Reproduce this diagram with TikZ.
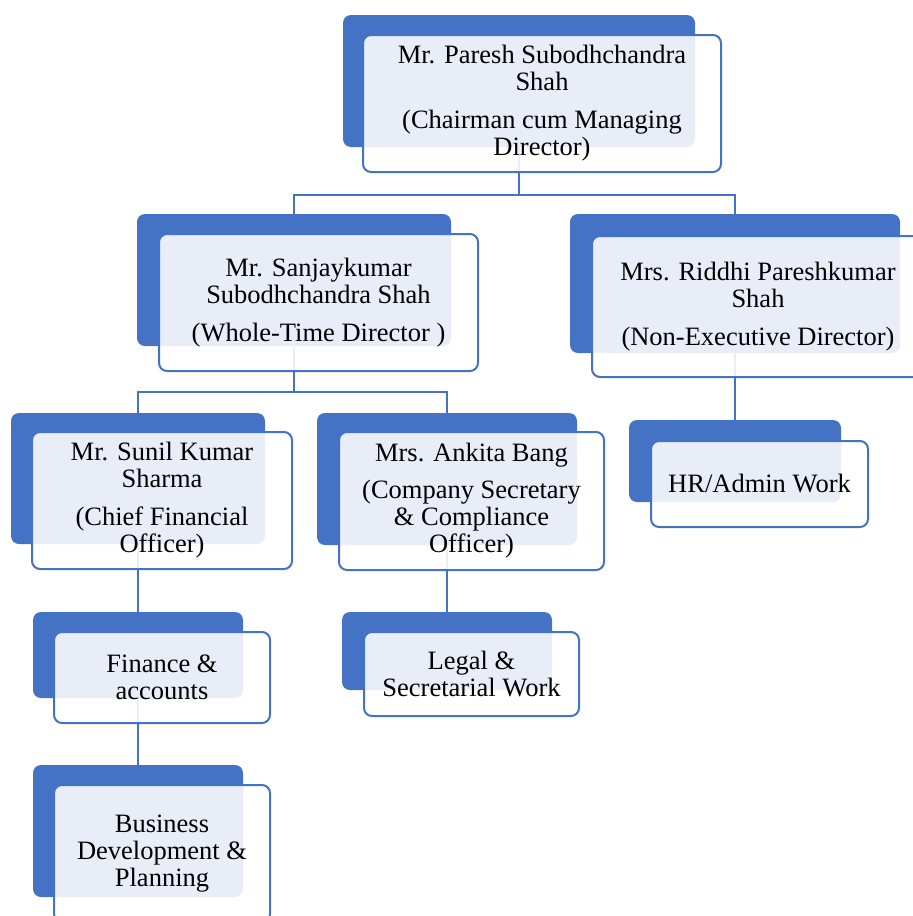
\documentclass[tikz,border=0pt]{standalone}
\usepackage{fontspec}
\setmainfont{Liberation Serif}
\usetikzlibrary{backgrounds}
\definecolor{orgblue}{HTML}{4472C4}
\tikzset{
  backbox/.style={fill=orgblue, rounded corners=8pt, inner sep=0pt},
  frontbox/.style={draw=orgblue, line width=2pt, fill=white, fill opacity=0.88, text opacity=1,
    rounded corners=8pt, align=center, inner sep=0pt, font=\fontsize{26.5}{27}\selectfont},
  link/.style={draw=orgblue, line width=2pt}
}
\begin{document}
\begin{tikzpicture}[x=1pt, y=-1pt]
  \useasboundingbox (0,0) rectangle (913,916);

  \node[backbox, minimum width=352pt, minimum height=132pt] (paresh-b) at (519,81) {};
  \node[frontbox, minimum width=358pt, minimum height=137pt] (paresh) at (542,103.5)
    {Mr. Paresh Subodhchandra\\Shah\\[11pt](Chairman cum Managing\\Director)};

  \node[backbox, minimum width=314pt, minimum height=132pt] (sanjay-b) at (294,280) {};
  \node[frontbox, minimum width=319pt, minimum height=137pt] (sanjay) at (318.5,302.5)
    {Mr. Sanjaykumar\\Subodhchandra Shah\\[11pt](Whole-Time Director )};

  \node[backbox, minimum width=330pt, minimum height=139pt] (riddhi-b) at (735,283.5) {};
  \node[frontbox, minimum width=332pt, minimum height=141pt] (riddhi) at (758,306.5)
    {Mrs. Riddhi Pareshkumar\\Shah\\[11pt](Non-Executive Director)};

  \node[backbox, minimum width=254pt, minimum height=131pt] (sunil-b) at (138,478.5) {};
  \node[frontbox, minimum width=260pt, minimum height=137pt] (sunil) at (162,500.5)
    {Mr. Sunil Kumar\\Sharma\\[11pt](Chief Financial\\Officer)};

  \node[backbox, minimum width=260pt, minimum height=132pt] (ankita-b) at (447,479) {};
  \node[frontbox, minimum width=265pt, minimum height=138pt] (ankita) at (471.5,501)
    {Mrs. Ankita Bang\\[10pt](Company Secretary\\\& Compliance\\Officer)};

  \node[backbox, minimum width=212pt, minimum height=82pt] (hr-b) at (735,461) {};
  \node[frontbox, minimum width=217pt, minimum height=86pt] (hr) at (759.5,484) {HR/Admin Work};

  \node[backbox, minimum width=210pt, minimum height=86pt] (finance-b) at (138,655) {};
  \node[frontbox, minimum width=216pt, minimum height=91pt] (finance) at (162,677.5) {Finance \&\\accounts};

  \node[backbox, minimum width=210pt, minimum height=132pt] (business-b) at (138,831) {};
  \node[frontbox, minimum width=216pt, minimum height=137pt] (business) at (162,853.5)
    {Business\\Development \&\\Planning};

  \node[backbox, minimum width=210pt, minimum height=78pt] (legal-b) at (447,651) {};
  \node[frontbox, minimum width=215pt, minimum height=84pt] (legal) at (471.5,674)
    {Legal \&\\Secretarial Work};

  \begin{scope}[on background layer]
    \coordinate (bus1) at (519,195);
    \coordinate (bus2) at (294,392);
    \draw[link] (paresh-b.center) -- (bus1);
    \draw[link] (sanjay-b.center) |- (bus1) -| (riddhi-b.center);
    \draw[link] (sanjay-b.center) -- (bus2);
    \draw[link] (sunil-b.center) |- (bus2) -| (ankita-b.center);
    \draw[link] (riddhi-b.center) -- (hr-b.center);
    \draw[link] (sunil-b.center) -- (finance-b.center);
    \draw[link] (finance-b.center) -- (business-b.center);
    \draw[link] (ankita-b.center) -- (legal-b.center);
  \end{scope}
\end{tikzpicture}
\end{document}
